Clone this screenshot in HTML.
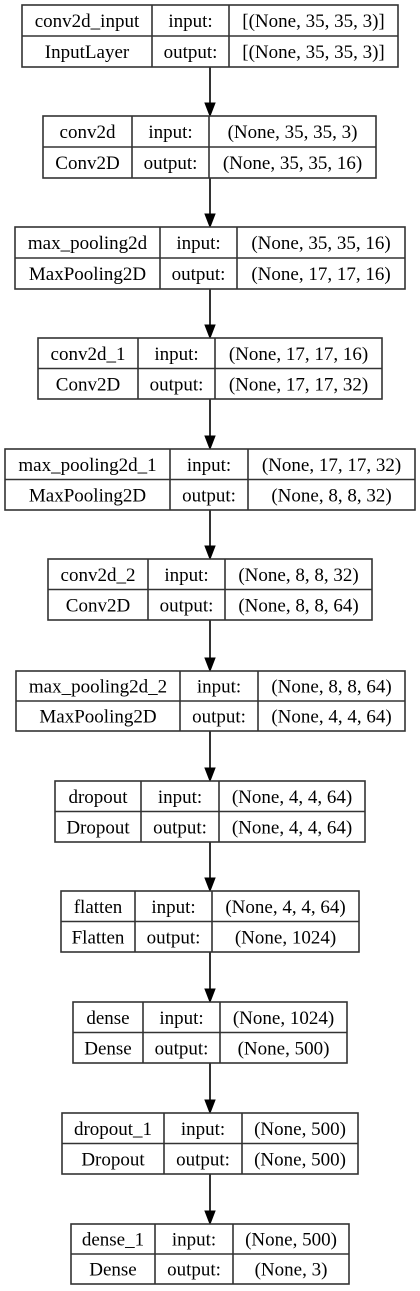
<!DOCTYPE html>
<html><head><meta charset="utf-8"><style>
html,body{margin:0;padding:0;background:#fff;}
svg{display:block;}
text{font-family:"Liberation Serif",serif;font-size:19px;fill:#000;}
</style></head><body>
<svg id="g" width="420" height="1291" viewBox="0 0 420 1291" xmlns="http://www.w3.org/2000/svg"></svg>
<script>
const layerNames = ["conv2d_input","conv2d","max_pooling2d","conv2d_1","max_pooling2d_1","conv2d_2","max_pooling2d_2","dropout","flatten","dense","dropout_1","dense_1"];
const layerTypes = ["InputLayer","Conv2D","MaxPooling2D","Conv2D","MaxPooling2D","Conv2D","MaxPooling2D","Dropout","Flatten","Dense","Dropout","Dense"];
const inputShapes = ["[(None, 35, 35, 3)]","(None, 35, 35, 3)","(None, 35, 35, 16)","(None, 17, 17, 16)","(None, 17, 17, 32)","(None, 8, 8, 32)","(None, 8, 8, 64)","(None, 4, 4, 64)","(None, 4, 4, 64)","(None, 1024)","(None, 500)","(None, 500)"];
const outputShapes = ["[(None, 35, 35, 3)]","(None, 35, 35, 16)","(None, 17, 17, 16)","(None, 17, 17, 32)","(None, 8, 8, 32)","(None, 8, 8, 64)","(None, 4, 4, 64)","(None, 4, 4, 64)","(None, 1024)","(None, 500)","(None, 500)","(None, 3)"];
// layout geometry: [left, divider1, divider2, right, top, bottom]
const boxes = [[22,152,229,398,5,67],[43,132,209,376,116,178],[15,160,237,405,227,289],[38,138,215,382,338,399],[5,170,248,415,449,510],[48,148,225,372,559,620],[16,180,258,405,671,731],[55,141,219,365,781,842],[61,135,212,359,891,952],[73,143,220,347,1002,1063],[62,164,242,358,1113,1174],[71,155,233,349,1224,1284]];
const svg = document.getElementById('g');
const NS = 'http://www.w3.org/2000/svg';
function mk(tag, attrs){const e=document.createElementNS(NS,tag);for(const k in attrs)e.setAttribute(k,attrs[k]);svg.appendChild(e);return e;}
function txt(x,y,s){const t=mk('text',{x:x,y:y,'text-anchor':'middle','dominant-baseline':'central'});t.textContent=s;return t;}
const CX=210;
layerNames.forEach((nm,i)=>{
  const [l,d1,d2,r,t,b]=boxes[i];const m=(t+b)/2;
  const g=mk('rect',{x:l,y:t,width:r-l,height:b-t,fill:'#fff',stroke:'#333',"stroke-width":1.6});
  
  
  mk('line',{x1:l,y1:m,x2:r,y2:m,stroke:'#333','stroke-width':1.6});
  mk('line',{x1:d1,y1:t,x2:d1,y2:b,stroke:'#333','stroke-width':1.6});
  mk('line',{x1:d2,y1:t,x2:d2,y2:b,stroke:'#333','stroke-width':1.6});
  const ty1=(t+m)/2+1, ty2=(m+b)/2+1;
  let e;
  e=txt((l+d1)/2,ty1,nm);
  
  
  e=txt((l+d1)/2,ty2,layerTypes[i]);
  
  
  e=txt((d1+d2)/2,ty1,'input:');
  
  
  e=txt((d1+d2)/2,ty2,'output:');
  
  
  e=txt((d2+r)/2,ty1,inputShapes[i]);
  
  
  e=txt((d2+r)/2,ty2,outputShapes[i]);
  
  
  if(i<layerNames.length-1){
    const nt=boxes[i+1][4];
    const ln=mk('line',{x1:CX,y1:b,x2:CX,y2:nt-12,stroke:'#333','stroke-width':2});
    
    
    const ah=mk('polygon',{points:`${CX-5},${nt-13} ${CX+5},${nt-13} ${CX},${nt}`,fill:'#000',stroke:'#000','stroke-width':1});
    
    
  }
});
</script>
</body></html>
